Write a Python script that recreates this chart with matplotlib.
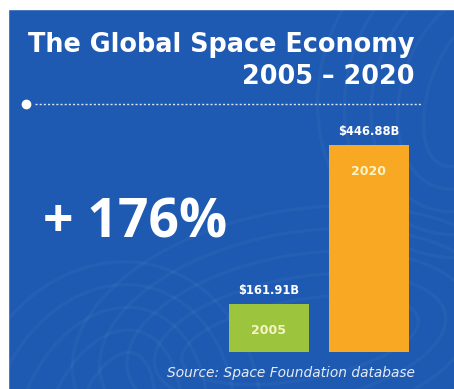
import matplotlib
matplotlib.use("Agg")
import matplotlib.pyplot as plt
from matplotlib.patches import Rectangle, Arc

# Global space economy, billions USD
years = ["2005", "2020"]
values = [161.91, 446.88]
value_labels = ["$161.91B", "$446.88B"]
growth_label = "+ 176%"
bar_colors = ["#9cc43c", "#f8a823"]

W, H = 454, 389
BLUE = "#1e5ab2"


def fx(x):
    return x / W


def fy(y):
    return 1 - y / H


fig = plt.figure(figsize=(W / 100, H / 100), dpi=100)
fig.patch.set_facecolor("white")

# blue card behind everything
bg = fig.add_axes([0, 0, 1, 1], zorder=0)
bg.set_xlim(0, W)
bg.set_ylim(H, 0)
bg.axis("off")
bg.add_patch(Rectangle((8, 9), W - 8, H - 9, color=BLUE))

# faint contour swirls
for cx, cy, w0, h0, ang in [(300, 340, 460, 260, -10), (110, 440, 300, 360, 15),
                            (470, 90, 300, 340, 20)]:
    for k in range(5):
        bg.add_patch(Arc((cx, cy), w0 - 55 * k, h0 - 45 * k, angle=ang,
                         color="white", alpha=0.035, lw=2.4))
bg.add_patch(Rectangle((0, 0), 8, H, color="white", zorder=5))
bg.add_patch(Rectangle((0, 0), W, 9, color="white", zorder=5))

# dotted divider
bg.plot([26], [104], "o", color="white", ms=6, zorder=6)
bg.plot([35, 422], [104, 104], color="white", lw=1.0, ls=(0, (1.5, 1.5)),
        alpha=0.85, zorder=6)

fig.text(fx(415), fy(45), "The Global Space Economy", ha="right", va="center",
         color="white", fontsize=18.4, fontweight="bold", family="DejaVu Sans")
fig.text(fx(415), fy(77), "2005 \u2013 2020", ha="right", va="center",
         color="white", fontsize=18.4, fontweight="bold", family="DejaVu Sans")

fig.text(fx(43), fy(223), growth_label, ha="left", va="center", color="white",
         fontsize=38.5, fontweight="bold", family="Open Sans")

fig.text(fx(415), fy(373), "Source: Space Foundation database", ha="right",
         va="center", color="#e6ecf5", fontsize=9.9, style="italic",
         family="DejaVu Sans")

# bars, axis truncated at 75 so the gap reads clearly
ax = fig.add_axes([fx(229), fy(352), (409 - 229) / W, (352 - 145) / H], zorder=2)
ax.patch.set_alpha(0)
x = range(len(years))
ax.bar(x, values, width=0.8, color=bar_colors)
ax.set_xlim(-0.4, 1.4)
ax.set_ylim(75, max(values))
ax.axis("off")

for i, (v, lab, yr) in enumerate(zip(values, value_labels, years)):
    ax.annotate(lab, (i, v), xytext=(0, 9.4), textcoords="offset points",
                ha="center", va="center", color="white", fontsize=8.3,
                fontweight="bold", family="DejaVu Sans", annotation_clip=False)
    ax.annotate(yr, (i, v), xytext=(0, -19.4), textcoords="offset points",
                ha="center", va="center", color="#f8f4c8", fontsize=9,
                fontweight="bold", family="DejaVu Sans", annotation_clip=False)

fig.savefig("out.png", dpi=100)
